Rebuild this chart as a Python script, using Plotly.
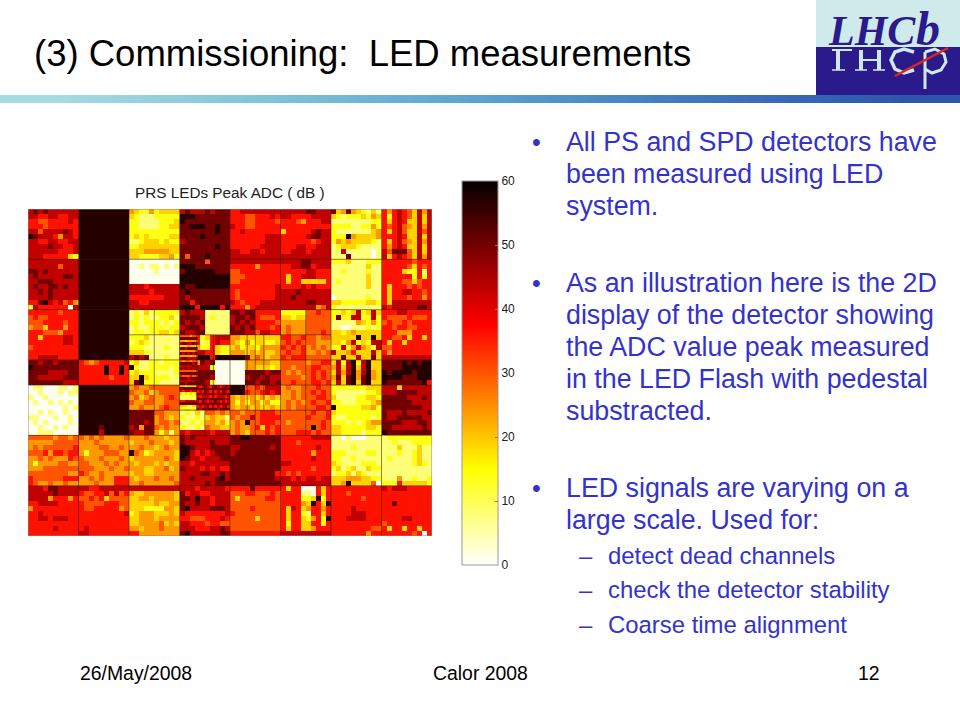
import plotly.graph_objects as go

W, H = 960, 720

TITLE = "(3) Commissioning:\u00a0\u00a0LED measurements"
CHART_TITLE = "PRS LEDs Peak ADC ( dB )"
BODY_LINES = [
    ["All PS and SPD detectors have", "been measured using LED", "system."],
    ["As an illustration here is the 2D", "display of the detector showing", "the ADC value peak measured",
     "in the LED Flash with pedestal", "substracted."],
    ["LED signals are varying on a", "large scale. Used for:"],
]
SUB_LINES = ["detect dead channels", "check the detector stability", "Coarse time alignment"]
FOOTER = ["26/May/2008", "Calor 2008", "12"]
COLORBAR_TICKS = [0, 10, 20, 30, 40, 50, 60]

LEVELS = [1, 8, 14, 19, 24, 30, 36, 43, 50, 57]
HEAT_ROWS = [
 "7878777777 9999999999 4322423333 7877787888 6677777777 7777788777 8348432131 6467653747",
 "7766776677 9999999999 3211122222 9998888888 6665566676 7766667777 3212223243 6267653737",
 "6655666676 9999999999 2211112223 9888888888 6665566665 6665466677 1111111122 6367633737",
 "6665666666 9999999999 2211112233 8899988988 7665566666 6666666666 2222112242 6567543747",
 "7757777876 9999999999 2222222222 8888888988 6676666666 3666667877 2111111134 6367533757",
 "9877764776 9999999999 2323222233 8888988888 6666666777 6666678877 2229433334 6667633737",
 "7766776677 9999999999 1123332322 7888888888 6666666777 6666665677 2434333321 6367543747",
 "7777877667 9999999999 2233333333 8888888988 6666667777 6667766777 1233321111 6467633737",
 "7777776667 9999999999 3334444433 8888888888 7766776777 6677767777 1171111101 7588853737",
 "7776666632 9999999999 3322223342 8588898888 7777777777 7777777777 1118111101 7367653747",
 "7777777777 9999999999 0000000000 8888858888 7777777777 7777887777 2223111222 6666665666",
 "7777775777 9999999999 0010110101 9998888888 6666646666 6677886777 1111111311 6666653656",
 "8878777777 9999999999 0000010000 8999999888 5566666666 6666677666 1121111211 6666322616",
 "7877777887 9999999999 0000000000 9999999999 5556666666 6366777666 1111111311 6666662626",
 "7788877777 9999999999 0000000000 9999999999 5566666666 6366333336 1211111311 6666553566",
 "7877887877 9999999999 7776777777 9889999999 6666666667 6666767666 1111111311 6366656566",
 "7787877777 9999999999 7777677777 8988888888 6566666667 7778777777 1111111111 6366776656",
 "7777877777 9999999999 6666666777 8788888888 6566666667 7787777777 0111111211 6366656646",
 "6689767564 9999999999 7766777777 8868888888 7656667777 7777788777 3322222332 6377777777",
 "2766666607 9999999999 7777777777 9996999969 6664677777 7777777457 2111111111 7677777887",
 "6666665666 9999999999 1213122222 7877711111 8878866666 2222255655 2232372373 6667766666",
 "5655666666 9999999999 1212112231 8888712111 7887865556 3323355555 2822772272 6555565556",
 "5556666566 9999999999 2212221212 8787811111 7878766665 4444455555 1111143242 5655656666",
 "4553666466 9999999999 1211222122 7888711111 8787866656 4544455555 1100111212 6656655666",
 "6665554666 9999999999 1221223323 8778811111 8887757766 4544455565 3323433333 6664446666",
 "6636666776 9999999999 2223111111 5746236777 4433333333 6655655455 3333393393 6655636636",
 "6666666776 9999999999 1232111111 4756126766 4324233223 5656555444 3324723277 6366366666",
 "5666666666 9999999999 2221111211 7574226322 3423324444 6565645454 2272474327 5566666666",
 "6666666666 9999999999 3332111111 5867766322 4443434334 5655644545 7334633373 6466666666",
 "6677776666 9999999999 7878111211 7479996999 9998454344 6566655555 3383373383 7777777777",
 "8878878888 6545666667 2311221222 4764878000 0004444433 5555545566 3727927933 8888989899",
 "9888888888 6666696696 9211222212 7577772000 0004433323 5545556655 4737937933 8888999999",
 "8888777788 6666696696 2322211112 4788888000 0008888788 5454556565 3747947943 9899998999",
 "8877777888 6666665666 3393222211 7678887000 0007887877 5555456565 4838948943 9999888999",
 "8888888777 6666666666 3892221111 7478872000 0008878878 5565556656 3738938933 9888888896",
 "0110001101 9999999999 4544555555 2317887878 9995565777 4544555655 2222222333 7773777777",
 "0010001011 9999999999 5445345555 6437887788 9996556767 4454556565 2111111223 7778888777",
 "1001000000 9999999999 4534544565 5867878788 4343434343 4454555665 3111122332 8888877787",
 "0100101010 9999999999 5445544555 3467888788 4242442422 4545456556 2211122234 8888887777",
 "0000000101 9999999999 4454445655 5737788778 4344343343 4545555665 9222223342 8888888877",
 "0010100100 9999999999 8888855444 1213155454 5545556665 5555556556 3222222222 8777877778",
 "1100010010 9999999999 8888845434 2112134331 5455756666 5555565556 2112222212 8778888877",
 "0101000010 9999999999 8887845545 1121244342 4549556665 5455555565 2221212344 8888777887",
 "0010010100 9999899999 7848854544 2112154433 4544563656 5555559565 3322222332 8877777787",
 "0011100000 9999799999 8778842414 7677776777 4543555656 5556665655 3322221222 9888888888",
 "5555545545 5454544445 4445444344 8787777777 8899888888 6666667777 1101000111 1222222222",
 "4444455555 4445444444 3444544434 8777778777 8888888888 6665666666 1111111111 1121112222",
 "4545555556 4444554454 4454434544 9987778888 7788888878 6666666766 1111211111 1113111311",
 "5556466566 4244455544 9542344443 9976767888 7888888888 6666664666 2221111221 1112112311",
 "4454544465 5444544454 3444444543 9877677788 8888888888 6666667666 2211211111 1211112311",
 "4244445544 5544454544 4344434344 7767777777 8888888888 7766666666 3211112221 1111112321",
 "4445555555 5554445445 4443344534 8777676766 8888888888 6666665666 2312311322 1111111111",
 "5555555544 6544544444 3443344444 7777887787 8888888886 6565666666 1223132111 1111111111",
 "6555555666 4454544666 4344454454 7787777897 8888888887 7767677677 3334443322 1114112112",
 "6544544544 4445444666 4454444445 7777787888 8888888888 7777777777 3349333350 2226333332",
 "7776887777 7766777777 7777777777 7776777776 6666866666 6366000636 6666666666 7677766666",
 "7777787777 6556675756 4334444443 8677667777 5556655565 6666110636 6665666666 6666666666",
 "7777466646 5565635555 3344344443 8879776777 5355555665 6666223926 6666665666 6666666666",
 "6677776666 6555566655 3333343344 8778776777 5555555555 6666439639 6666666666 6686666666",
 "4666666666 6556666645 3332222443 8977778887 5555655555 6376346646 6666766666 6666666666",
 "6676666666 6666666667 2344433343 7666666667 6555555555 6366216636 6666777666 6666666666",
 "6677677766 6666666666 3344434444 6655566676 5555535555 6366324629 6667777666 6666776666",
 "6666666666 6666666666 3344445343 7766656655 5555555555 6266336626 6666666666 5666666666",
 "6666676666 6766666666 4434445444 7776667787 5555555555 6366334666 6666666655 6366366366",
 "6666666666 7766666666 6644444444 8977777788 6666666666 7777777777 6666666466 6666665606",
]

# Half-cell stripes of the central modules.
STRIPE_ROWS = [
 "5555455", "8888888", "4434444", "7887787", "3334333", "8878888", "4444445", "8787878",
 "4444344", "7887777", "5455455", "8888878", "7777787", "8787878", "5555555", "8888888",
 "6555655", "8887888", "7777778", "8878888", "3323333", "8888888", "7677677", "3232323",
 "1211222", "1121212", "6677776", "8888888", "3332233", "2222222",
]
FINE_ROWS = [
 "7678767876787", "8888888888888", "6768767676876", "8878888788888", "7677767677767",
 "8888788888878", "7687676876767", "8888888888888", "6767867676786", "8788888878888",
]

# Reversed "hot" ramp of the colour bar: white, yellow, red, black.
HOT_SCALE = [[0.0, "#ffffff"], [0.25, "#ffff00"], [0.625, "#ff0000"], [1.0, "#030000"]]
GRADIENT_STEPS = [0, 1, 2, 3, 4, 5, 6, 7, 8]
GRADIENT_COLORS = [[0.0, "#a6dbe0"], [0.25, "#7fc4d8"], [0.5, "#58a3cf"], [0.75, "#3f78bc"], [1.0, "#2d55ab"]]


def decode(rows):
    return [[LEVELS[int(c)] for c in row.replace(" ", "")] for row in rows]


BLUE = "#3333cc"
FONT = "Liberation Sans, Arial, sans-serif"


def px(x):
    return x / W


def py(y):
    return 1 - y / H


fig = go.Figure()
fig.add_trace(go.Heatmap(
    z=decode(HEAT_ROWS), x0=0.5, dx=1, y0=0.5, dy=1, colorscale=HOT_SCALE, zmin=0, zmax=60,
    hoverinfo="skip",
    colorbar=dict(
        x=px(462), xanchor="left", xpad=0, ypad=0, y=py(565), yanchor="bottom",
        len=(565 - 181) / H, lenmode="fraction", thickness=36, thicknessmode="pixels",
        tickvals=COLORBAR_TICKS, ticks="inside", ticklen=3, tickcolor="#777777", tickwidth=1,
        outlinecolor="#999999", outlinewidth=1, tickfont=dict(family=FONT, size=12, color="#222222"),
    ),
))
fig.add_trace(go.Heatmap(
    z=decode(STRIPE_ROWS), x0=30.25, dx=0.5, y0=25.25, dy=0.5, colorscale=HOT_SCALE, zmin=0, zmax=60,
    showscale=False, hoverinfo="skip",
))
fig.add_trace(go.Heatmap(
    z=decode(FINE_ROWS), x0=33.65, dx=0.5, y0=35.25, dy=0.5, colorscale=HOT_SCALE, zmin=0, zmax=60,
    showscale=False, hoverinfo="skip",
))
fig.add_trace(go.Heatmap(
    z=[GRADIENT_STEPS], xaxis="x2", yaxis="y2", colorscale=GRADIENT_COLORS, showscale=False,
    zsmooth="best", hoverinfo="skip",
))

shapes = []


def line(x0, y0, x1, y1, color="rgba(50,30,0,0.55)", width=1):
    shapes.append(dict(type="line", xref="x", yref="y", x0=x0, y0=y0, x1=x1, y1=y1,
                       line=dict(color=color, width=width), layer="above"))


for c in range(10, 80, 10):
    line(c, 0, c, 65)
for r in (10, 20, 30, 35, 45, 55):
    line(0, r, 80, r)
for c in (25, 45, 55):
    line(c, 20, c, 45)
line(35, 20, 35, 25)
line(35, 40, 35, 45)
for c in (33.4, 36.7, 43.4, 46.7):
    line(c, 25, c, 40)
for r in (25, 40):
    line(20, r, 60, r)
shapes.append(dict(type="rect", xref="x", yref="y", x0=0, x1=80, y0=0, y1=65,
                   line=dict(color="#8a8a80", width=1), layer="above"))

# Logo panels
shapes.append(dict(type="rect", xref="paper", yref="paper", x0=px(816), x1=1, y0=py(47), y1=1,
                   fillcolor="#cfeaea", line_width=0, layer="below"))
shapes.append(dict(type="rect", xref="paper", yref="paper", x0=px(816), x1=1, y0=py(95), y1=py(47),
                   fillcolor="#2b1a8c", line_width=0, layer="below"))


def stroke(points, width, color="#cfe8ea", closed=False):
    d = "M " + " L ".join(f"{px(x):.5f},{py(y):.5f}" for x, y in points)
    if closed:
        d += " Z"
    shapes.append(dict(type="path", xref="paper", yref="paper", path=d,
                       line=dict(color=color, width=width), layer="above"))


# Reflection of the logo lettering
stroke([(838, 50), (838, 70)], 4)
stroke([(832, 50), (852, 50)], 2)
stroke([(832, 70), (845, 70)], 1.5)
stroke([(861, 50), (861, 70)], 4)
stroke([(879, 50), (879, 70)], 4)
stroke([(861, 60), (879, 60)], 2)
stroke([(855, 70), (867, 70)], 1.5)
stroke([(873, 70), (885, 70)], 1.5)
stroke([(914, 52), (904, 49), (895, 52), (891, 60), (895, 69), (904, 73), (914, 70)], 3.5)
stroke([(925, 52), (925, 89)], 3)
stroke([(925, 52), (935, 49), (944, 54), (946, 62), (941, 70), (932, 73), (925, 69)], 3)
stroke([(895, 76), (948, 48)], 2.5, "#e0261c")

anns = []


def text(x, y, s, size, color="#000000", anchor="left", family=FONT):
    anns.append(dict(xref="paper", yref="paper", x=px(x), y=py(y), text=s, showarrow=False,
                     xanchor=anchor, yanchor="middle",
                     font=dict(family=family, size=size, color=color)))


text(32, 54, TITLE, 36.5)
text(230, 193, CHART_TITLE, 15.3, "#222222", "center")
LINE_Y = [[142, 174, 206], [283, 315, 347, 379, 411], [488, 520]]
for lines, ys in zip(BODY_LINES, LINE_Y):
    text(530, ys[0], "\u2022", 25, BLUE)
    for s, y in zip(lines, ys):
        text(564, y, s, 26.8, BLUE)
for s, y in zip(SUB_LINES, (555, 589, 624)):
    text(577, y, "\u2013", 23.9, BLUE)
    text(606, y, s, 23.9, BLUE)
text(78, 673, FOOTER[0], 19.4)
text(431, 673, FOOTER[1], 19.4)
text(856, 673, FOOTER[2], 19.4)
text(826, 31, "<b><i>LHC</i></b>", 42, "#2b1a8c", family="Liberation Serif, serif")
text(914, 29, "<b><i>b</i></b>", 48, "#2b1a8c", family="Liberation Serif, serif")

fig.update_layout(
    width=W, height=H, margin=dict(l=0, r=0, t=0, b=0), autosize=False,
    paper_bgcolor="white", plot_bgcolor="white", shapes=shapes, annotations=anns, showlegend=False,
    xaxis=dict(domain=[px(28), px(432)], range=[0, 80], visible=False, fixedrange=True),
    yaxis=dict(domain=[py(536), py(209)], range=[65, 0], visible=False, fixedrange=True),
    xaxis2=dict(domain=[0, 1], visible=False, fixedrange=True, anchor="y2"),
    yaxis2=dict(domain=[py(103), py(95)], visible=False, fixedrange=True, anchor="x2"),
)
fig.write_html("out.html", post_script="document.body.style.margin='0';", config={"displayModeBar": False})
